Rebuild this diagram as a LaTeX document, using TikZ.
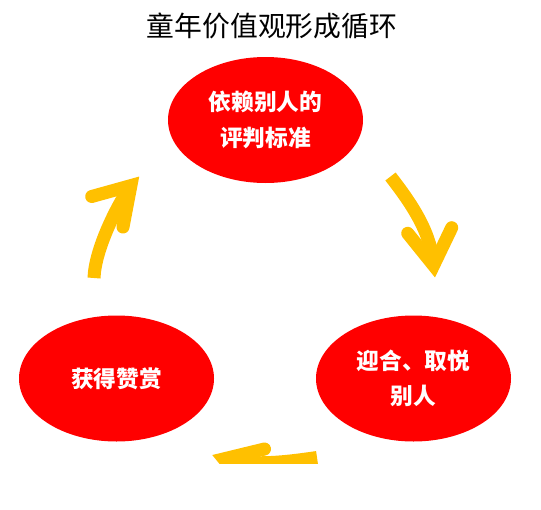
\documentclass[tikz,border=0pt]{standalone}
\usepackage{fontspec}
\newfontfamily\cjk{Noto Sans CJK SC}
\usetikzlibrary{shapes.geometric}
\definecolor{bubblered}{HTML}{FF0000}
\definecolor{arrowgold}{HTML}{FFC000}
\tikzset{
  bubble/.style={ellipse, fill=bubblered, minimum width=195pt, minimum height=126pt, inner sep=0pt, text=white, font=\cjk\bfseries\fontsize{22.7}{35.5}\selectfont, align=center},
  shaftline/.style={draw=arrowgold, line width=13pt, line cap=butt},
  headline/.style={draw=arrowgold, line width=13pt, line cap=round, line join=miter, miter limit=10},
  titletext/.style={font=\cjk\fontsize{27.8}{32}\selectfont, text=black, inner sep=0pt}
}
\begin{document}
\begin{tikzpicture}[x=1pt,y=-1pt]
\useasboundingbox[fill=white] (0,0) rectangle (541,509);
\node[titletext] (title) at (272,26) {童年价值观形成循环};
\node[bubble] (judge) at (265.5,120) {依赖别人的\\评判标准};
\node[bubble] (please) at (413.5,378.5) {迎合、取悦\\别人};
\node[bubble] (praise) at (116.5,378.5) {获得赞赏};
% top-right arrow
\coordinate (a1s) at (390.5,176.5);
\coordinate (a1v) at (433.6,265.4);
\coordinate (a1l) at (407.7,233.3);
\coordinate (a1r) at (451.7,227.7);
\path[shaftline] (a1s) .. controls (411.5,203.6) and (431,232) .. (a1v);
\path[headline] (a1l) -- (a1v) -- (a1r);
% left arrow
\coordinate (a2s) at (94,278);
\coordinate (a2v) at (130.9,185.6);
\coordinate (a2l) at (91.7,196.5);
\coordinate (a2r) at (123,227);
\path[shaftline] (a2s) .. controls (95,250) and (116,207) .. (a2v);
\path[headline] (a2l) -- (a2v) -- (a2r);
% bottom arrow (cut off)
\begin{scope}
\clip (0,0) rectangle (541,463.5);
\coordinate (a3s) at (317,457.5);
\coordinate (a3v) at (223.8,458.9);
\coordinate (a3u) at (264.5,449);
\coordinate (a3d) at (249.7,490.8);
\path[shaftline] (a3s) .. controls (286,462) and (254,466) .. (a3v);
\path[headline] (a3u) -- (a3v) -- (a3d);
\end{scope}
\end{tikzpicture}
\end{document}
